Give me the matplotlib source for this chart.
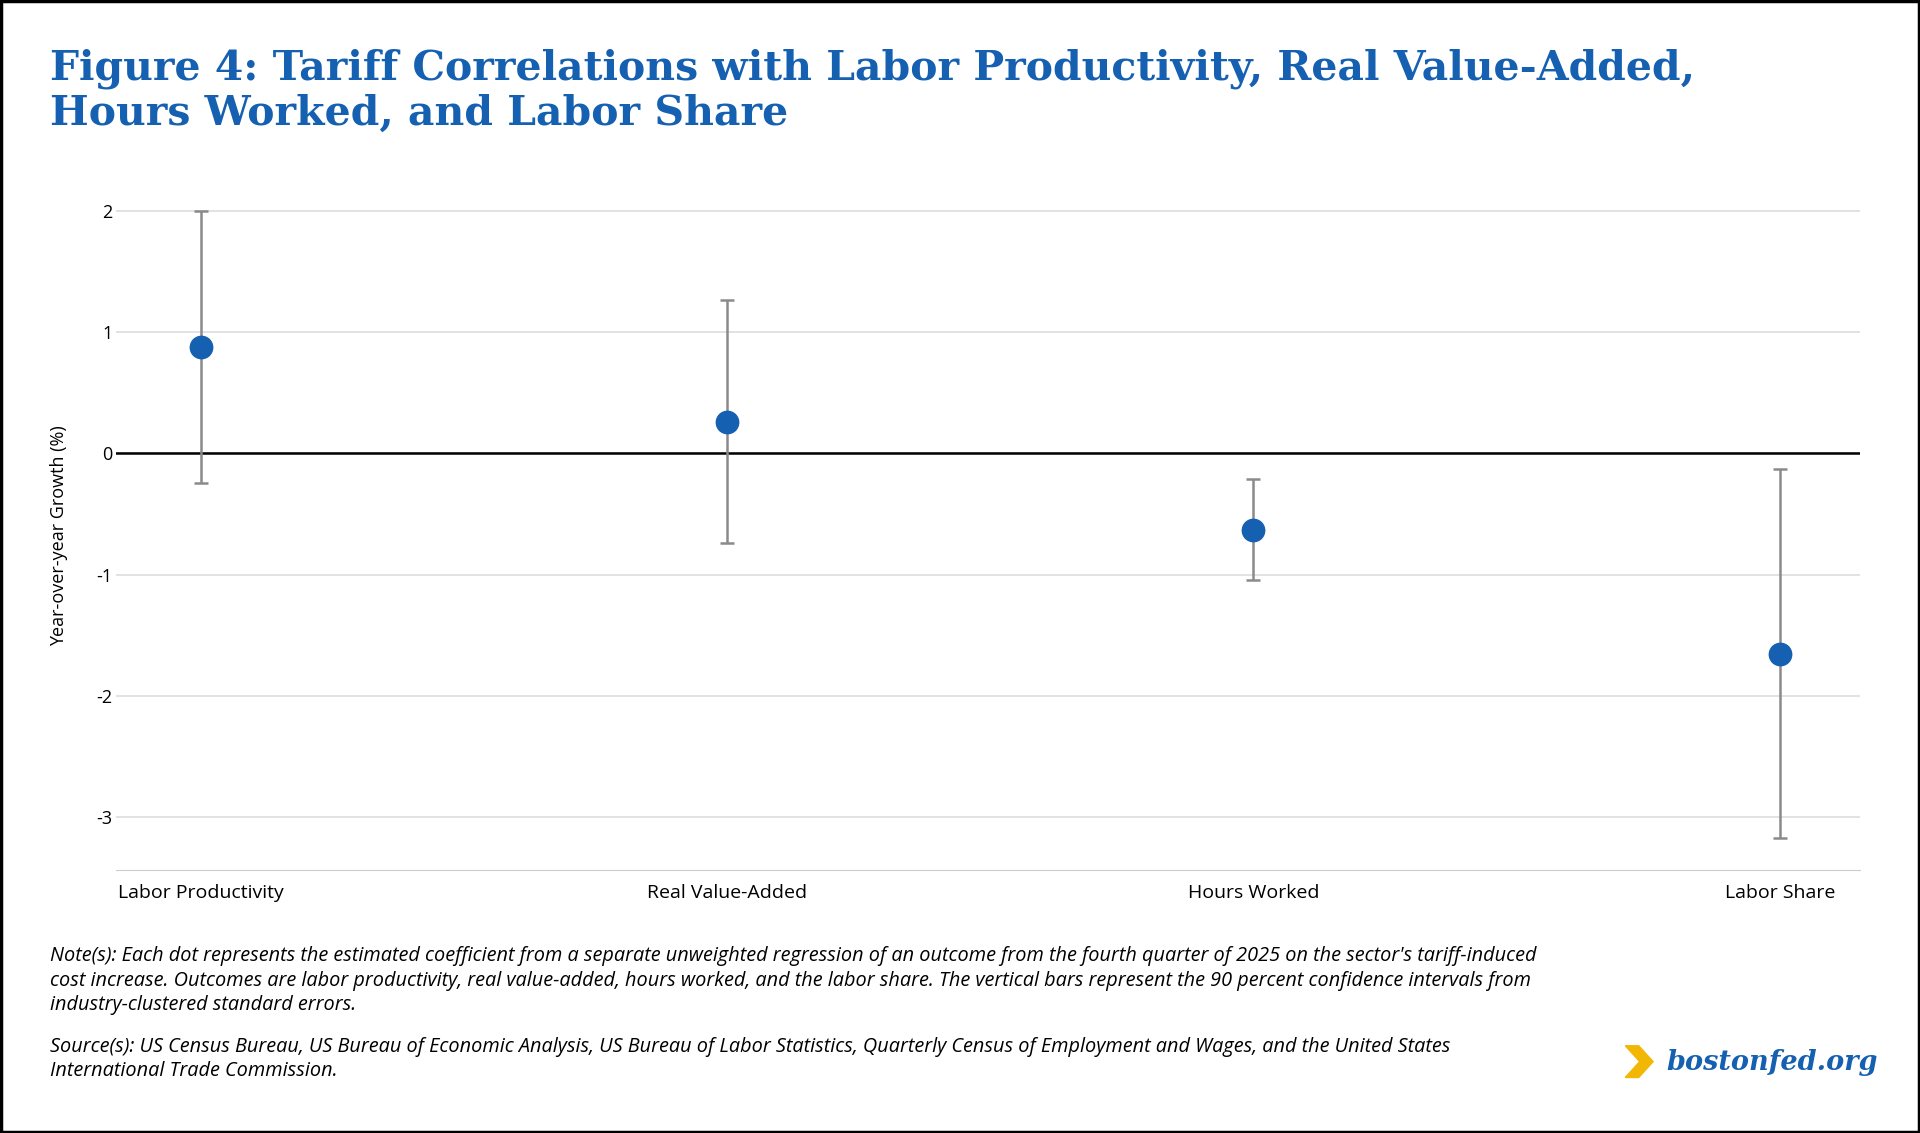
import matplotlib
matplotlib.use("Agg")
import matplotlib.pyplot as plt
from matplotlib.patches import Rectangle, Polygon

categories = ["Labor Productivity", "Real Value-Added", "Hours Worked", "Labor Share"]
estimates = [0.88, 0.26, -0.63, -1.65]
ci_low = [-0.24, -0.74, -1.04, -3.17]
ci_high = [2.0, 1.26, -0.21, -0.13]
yticks = [2, 1, 0, -1, -2, -3]

BLUE = "#1560b0"
fig = plt.figure(figsize=(19.2, 11.33), dpi=100)
fig.patches.append(Rectangle((0.0005, 0.0008), 0.999, 0.9985, transform=fig.transFigure,
                             fill=False, edgecolor="black", linewidth=2.5))

fig.text(0.026, 0.957, "Figure 4: Tariff Correlations with Labor Productivity, Real Value-Added,\nHours Worked, and Labor Share",
         family="DejaVu Serif", weight="bold", color=BLUE, fontsize=29.5, va="top", linespacing=1.15)

ax = fig.add_axes([0.0606, 0.2324, 0.9084, 0.5892])
x = range(len(categories))
lo = [e - l for e, l in zip(estimates, ci_low)]
hi = [h - e for e, h in zip(estimates, ci_high)]
ax.errorbar(x, estimates, yerr=[lo, hi], fmt="none", ecolor="#8a8a8a", elinewidth=1.8,
            capsize=5, capthick=1.8, zorder=2)
ax.scatter(x, estimates, s=260, color=BLUE, zorder=3)
ax.axhline(0, color="black", linewidth=1.8, zorder=1)
ax.set_xlim(-0.16, 3.153)
ax.set_ylim(-3.43, 2.07)
ax.set_yticks(yticks)
ax.set_yticklabels([str(t) for t in yticks], family="Open Sans", fontsize=13)
ax.set_xticks(list(x))
ax.set_xticklabels(categories, family="Open Sans", fontsize=14)
ax.grid(axis="y", color="#dddddd", linewidth=1.2, zorder=0)
ax.set_axisbelow(True)
for s in ["top", "right", "left"]:
    ax.spines[s].set_visible(False)
ax.spines["bottom"].set_color("#cccccc")
ax.tick_params(length=0, pad=10)
ax.tick_params(axis="y", pad=3)
ax.set_ylabel("Year-over-year Growth (%)", family="Open Sans", fontsize=13, labelpad=20)

note = ("Note(s): Each dot represents the estimated coefficient from a separate unweighted regression of an outcome from the fourth quarter of 2025 on the sector's tariff-induced\n"
        "cost increase. Outcomes are labor productivity, real value-added, hours worked, and the labor share. The vertical bars represent the 90 percent confidence intervals from\n"
        "industry-clustered standard errors.")
src = ("Source(s): US Census Bureau, US Bureau of Economic Analysis, US Bureau of Labor Statistics, Quarterly Census of Employment and Wages, and the United States\n"
       "International Trade Commission.")
fig.text(0.026, 0.165, note, family="Open Sans", style="italic", fontsize=14.3, va="top", linespacing=1.3)
fig.text(0.026, 0.085, src, family="Open Sans", style="italic", fontsize=14.3, va="top", linespacing=1.3)

fig.patches.append(Polygon([[0.8465, 0.077], [0.8535, 0.077], [0.861, 0.063], [0.8535, 0.049], [0.8465, 0.049], [0.854, 0.063]],
                           closed=True, transform=fig.transFigure, color="#f2b705"))
fig.text(0.868, 0.062, "bostonfed.org", family="DejaVu Serif", weight="bold", style="italic",
         color=BLUE, fontsize=19.5, va="center")

fig.savefig("out.png", dpi=100)
